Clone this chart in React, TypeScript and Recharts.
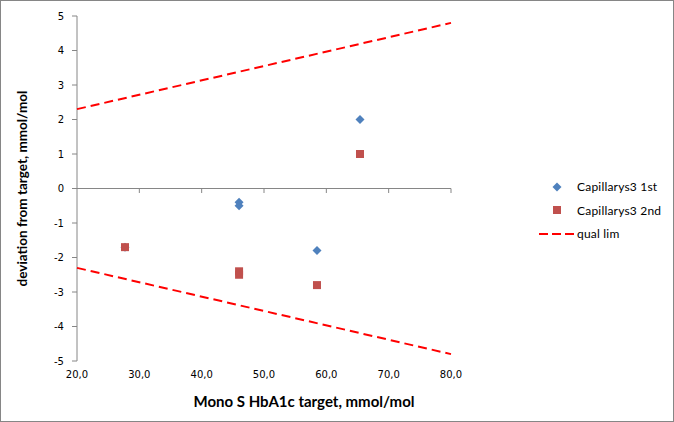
import { ScatterChart, Scatter, XAxis, YAxis, ReferenceLine, Legend } from 'recharts';

const firstX = [27.7, 46.0, 46.0, 58.5, 65.4];
const firstY = [-1.7, -0.4, -0.5, -1.8, 2.0];
const secondX = [27.7, 46.0, 46.0, 58.5, 65.4];
const secondY = [-1.7, -2.4, -2.5, -2.8, 1.0];
const limX = [20, 80];
const limUpper = [2.3, 4.8];
const limLower = [-2.3, -4.8];
const xTicks = [20, 30, 40, 50, 60, 70, 80];
const yTicks = [-5, -4, -3, -2, -1, 0, 1, 2, 3, 4, 5];
const seriesNames = ['Capillarys3 1st', 'Capillarys3 2nd', 'qual lim'];

const toPoints = (xs: number[], ys: number[]) => xs.map((x, i) => ({ x, y: ys[i] }));

const firstData = toPoints(firstX, firstY);
const secondData = toPoints(secondX, secondY);
const upperData = toPoints(limX, limUpper);
const lowerData = toPoints(limX, limLower);

const AXIS = '#868686';
const BLUE = '#4F81BD';
const RED = '#C0504D';
const FONT = '"DejaVu Sans", Verdana, sans-serif';
const TITLE_FONT = 'Lato, "Open Sans", sans-serif';

const Diamond = (props: any) => {
    const { cx, cy } = props;
    const r = 4.5;
    return <polygon points={`${cx},${cy - r} ${cx + r},${cy} ${cx},${cy + r} ${cx - r},${cy}`} fill={BLUE} />;
};

const Square = (props: any) => {
    const { cx, cy } = props;
    return <rect x={cx - 4} y={cy - 4} width={8} height={8} fill={RED} />;
};

const NoDot = () => <g />;

function LegendBox() {
    return (
        <div style={{ fontFamily: TITLE_FONT, fontSize: 12, letterSpacing: 0.2, color: '#000', whiteSpace: 'nowrap' }}>
            {seriesNames.map((name, i) => (
                <div key={name} style={{ display: 'flex', alignItems: 'center', height: 23.5 }}>
                    <svg width={36} height={12} style={{ flexShrink: 0 }}>
                        {i === 0 && <polygon points="18,1.5 22.5,6 18,10.5 13.5,6" fill={BLUE} />}
                        {i === 1 && <rect x={14} y={2} width={8} height={8} fill={RED} />}
                        {i === 2 && <line x1={0} y1={6} x2={36} y2={6} stroke="#FF0000" strokeWidth={2} strokeDasharray="9 4" />}
                    </svg>
                    <span style={{ marginLeft: 2 }}>{name}</span>
                </div>
            ))}
        </div>
    );
}

export default function App() {
    return (
        <div style={{ position: 'absolute', left: 0, top: 0, width: 674, height: 422, background: '#fff' }}>
            <ScatterChart width={674} height={422} margin={{ top: 16, right: 223, bottom: 0, left: 0 }}>
                <XAxis
                    type="number"
                    dataKey="x"
                    domain={[20, 80]}
                    ticks={xTicks}
                    height={61}
                    axisLine={false}
                    tickLine={false}
                    tickSize={0}
                    tickMargin={10}
                    tick={{ fill: '#000', fontSize: 10, fontFamily: FONT }}
                    tickFormatter={(v: number) => v.toFixed(1).replace('.', ',')}
                    label={{
                        value: 'Mono S HbA1c target, mmol/mol',
                        position: 'insideBottom',
                        offset: 15,
                        dx: 40,
                        style: { fontFamily: TITLE_FONT, fontSize: 15, fontWeight: 'bold', fill: '#000' },
                    }}
                />
                <YAxis
                    type="number"
                    dataKey="y"
                    domain={[-5, 5]}
                    ticks={yTicks}
                    width={77}
                    stroke={AXIS}
                    tickSize={5}
                    tickMargin={8}
                    tick={{ fill: '#000', fontSize: 10, fontFamily: FONT }}
                    label={{
                        value: 'deviation from target, mmol/mol',
                        angle: -90,
                        position: 'insideLeft',
                        offset: 22,
                        style: { textAnchor: 'middle', fontFamily: TITLE_FONT, fontSize: 13.5, fontWeight: 'bold', fill: '#000' },
                    }}
                />
                <ReferenceLine y={0} stroke={AXIS} />
                {xTicks.slice(1).map((t) => (
                    <ReferenceLine key={t} segment={[{ x: t, y: 0 }, { x: t, y: -0.13 }]} stroke={AXIS} />
                ))}
                <Scatter name={seriesNames[2]} data={upperData} line={{ stroke: '#FF0000', strokeWidth: 2, strokeDasharray: '9 5' }} shape={NoDot} isAnimationActive={false} legendType="none" />
                <Scatter name={seriesNames[2]} data={lowerData} line={{ stroke: '#FF0000', strokeWidth: 2, strokeDasharray: '9 5' }} shape={NoDot} isAnimationActive={false} legendType="none" />
                <Scatter name={seriesNames[0]} data={firstData} shape={Diamond} isAnimationActive={false} />
                <Scatter name={seriesNames[1]} data={secondData} shape={Square} isAnimationActive={false} />
                <Legend
                    layout="vertical"
                    align="center"
                    verticalAlign="middle"
                    content={() => <LegendBox />}
                    wrapperStyle={{ left: 539, top: 175, width: 132 }}
                />
            </ScatterChart>
            <div style={{ position: 'absolute', left: 0, top: 0, width: 674, height: 422, boxSizing: 'border-box', border: `1px solid ${AXIS}`, pointerEvents: 'none' }} />
        </div>
    );
}
